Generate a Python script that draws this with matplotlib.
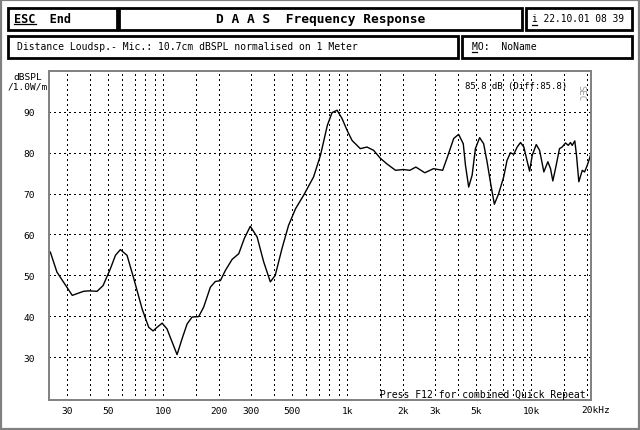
import matplotlib
matplotlib.use('Agg')
import matplotlib.pyplot as plt
from matplotlib.patches import Rectangle
from matplotlib.lines import Line2D

# ── Data ──────────────────────────────────────────────────────────
freq = [24.4, 26.5, 32.1, 37.0, 39.5, 43.8, 47.2, 51.7, 55.1, 58.6, 63.7, 69.3,
        76.9, 83.5, 88.2, 92.8, 98.8, 105, 111.9, 119.1, 126.8, 135, 143.7, 156,
        166, 180.6, 192.2, 204.7, 217.9, 237, 257.6, 276, 297.5, 324, 351.8,
        382.4, 406.5, 442, 480, 524, 580, 657, 716, 780, 827, 881, 937, 998,
        1063, 1178, 1280, 1390, 1510, 1640, 1830, 2020, 2190, 2360, 2640, 2940,
        3300, 3480, 3790, 4030, 4270, 4390, 4570, 4770, 4970, 5240, 5510, 5750,
        6040, 6300, 6650, 7080, 7380, 7700, 8030, 8380, 8740, 9110, 9510, 9790,
        10120, 10640, 11090, 11470, 11700, 12300, 12720, 13090, 13530, 14230,
        14710, 15340, 15870, 16330, 16680, 17230, 17600, 18120, 18920, 19470,
        20130, 20710, 21150]
spl = [55.7, 50.8, 45.1, 46.1, 46.2, 46.1, 47.5, 51.6, 54.9, 56.3, 54.9, 49.2,
       41.8, 37.3, 36.4, 37.3, 38.3, 36.9, 33.7, 30.6, 34.5, 38.1, 39.8, 39.9,
       42.2, 47.1, 48.5, 48.7, 51.2, 53.9, 55.3, 59.0, 62.0, 59.4, 53.3,
       48.4, 50.0, 56.5, 62.2, 66.3, 69.6, 74.1, 79.4, 86.7, 89.8, 90.4, 88.4, 85.5,
       83.0, 81.0, 81.4, 80.6, 78.7, 77.3, 75.7, 75.9, 75.7, 76.5, 75.1, 76.1,
       75.7, 78.6, 83.5, 84.5, 82.2, 76.9, 71.6, 74.5, 81.0, 83.7, 82.2, 77.8,
       72.0, 67.4, 70.0, 74.1, 78.1, 80.0, 79.6, 81.4, 82.5, 81.4, 77.8, 75.5,
       79.4, 82.0, 80.6, 77.3, 75.3, 77.8, 76.1, 73.1, 76.1, 81.0,
       81.4, 82.4, 81.8, 82.5, 81.8, 82.9, 79.4, 72.9, 75.7, 75.3,
       76.9, 78.6, 80.0]

x_ticks = [30, 50, 100, 200, 300, 500, 1000, 2000, 3000, 5000, 10000, 20000]
x_labels = ['30', '50', '100', '200', '300', '500', '1k', '2k', '3k', '5k', '10k', '']
x_minor = [40, 60, 70, 80, 90, 150, 400, 600, 700, 800, 900, 1500,
           4000, 6000, 7000, 8000, 9000, 15000]
y_ticks = [30, 40, 50, 60, 70, 80, 90]

# ── Figure ────────────────────────────────────────────────────────
W, H = 640, 431
fig = plt.figure(figsize=(W / 100, H / 100), dpi=100)
MONO = 'DejaVu Sans Mono'


def fx(x):
    return x / W


def fy(y):
    return 1 - y / H


def box(x0, y0, x1, y1, lw=2.0):
    fig.add_artist(Rectangle((fx(x0), fy(y1)), fx(x1) - fx(x0), fy(y0) - fy(y1),
                             transform=fig.transFigure, fill=False,
                             edgecolor='black', linewidth=lw))


def uline(x0, x1, y):
    fig.add_artist(Line2D([fx(x0), fx(x1)], [fy(y), fy(y)],
                          transform=fig.transFigure, color='black', linewidth=0.9))


# outer dithered border
fig.add_artist(Rectangle((0.001, 0.002), 0.997, 0.996, transform=fig.transFigure,
                         fill=False, edgecolor='#808080', linewidth=1.6))

# header boxes
box(8, 8.5, 116.5, 30.5)
box(119, 8.5, 522, 30.5)
box(526, 8.5, 632, 30.5)
box(8, 36.5, 458, 59)
box(462, 36.5, 632, 59)

fig.text(fx(14), fy(19.5), 'ESC  End', family=MONO, fontweight='bold', fontsize=8.6,
         va='center', ha='left')
uline(14, 36, 24.5)
fig.text(fx(321), fy(20), 'D A A S  Frequency Response', family=MONO,
         fontweight='bold', fontsize=9.3, va='center', ha='center')
fig.text(fx(532), fy(19.5), 'i 22.10.01 08 39', family=MONO, fontsize=6.9,
         va='center', ha='left')
uline(532, 537, 25.5)
fig.text(fx(17), fy(47.5), 'Distance Loudsp.- Mic.: 10.7cm dBSPL normalised on 1 Meter',
         family=MONO, fontsize=7.0, va='center', ha='left')
fig.text(fx(472), fy(47.5), 'MO:  NoName', family=MONO, fontsize=7.0,
         va='center', ha='left')
uline(472, 477, 52.5)

# ── Plot area ─────────────────────────────────────────────────────
ax = fig.add_axes([fx(49), fy(401), fx(591) - fx(49), fy(72) - fy(401)])
ax.plot(freq, spl, color='black', linewidth=1.0)
ax.set_xscale('log')
ax.set_xlim(24, 21100)
ax.set_ylim(19.5, 100)

ax.set_xticks(x_ticks)
ax.set_xticklabels(x_labels, family=MONO, fontsize=6.8)
ax.set_xticks(x_minor, minor=True)
ax.set_xticklabels([''] * len(x_minor), minor=True)
ax.set_yticks(y_ticks)
ax.set_yticklabels([str(v) for v in y_ticks], family=MONO, fontsize=6.8)
ax.tick_params(which='both', length=0)
ax.tick_params(axis='x', pad=4)
ax.tick_params(axis='y', pad=10)
ax.grid(which='both', color='black', linestyle=(0, (1, 3)), linewidth=0.75,
        antialiased=False)

for s in ax.spines.values():
    s.set_color('#808080')
    s.set_linewidth(1.4)

# last x label sits left-aligned on the 20k line, unit attached
fig.text(fx(581), fy(410.5), '20kHz', family=MONO, fontsize=6.8,
         ha='left', va='center')
fig.text(fx(42), fy(77), 'dBSPL', family=MONO, fontsize=6.8, ha='right', va='center')
fig.text(fx(48), fy(87), '/1.0W/m', family=MONO, fontsize=6.8, ha='right', va='center')

fig.text(fx(465), fy(86), '85.8 dB (Diff:85.8)', family=MONO, fontsize=6.5,
         ha='left', va='center')
fig.text(fx(380), fy(395), 'Press F12 for combined Quick Repeat', family=MONO,
         fontsize=7.0, ha='left', va='center')
fig.text(fx(581), fy(93), 'SEC', family=MONO, fontsize=6.5, color='#999999',
         rotation=270, ha='center', va='center')

fig.savefig('out.png', dpi=100, facecolor='white')
